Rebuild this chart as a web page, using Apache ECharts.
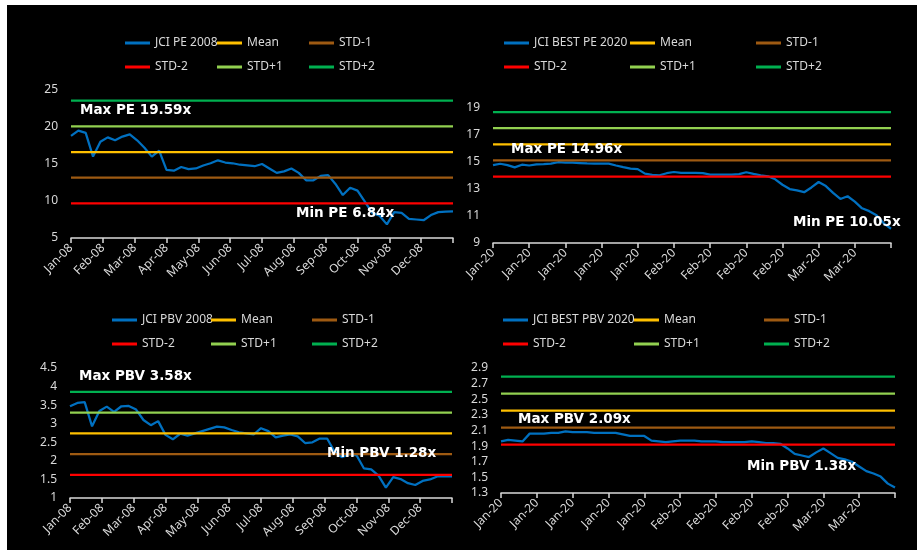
<!DOCTYPE html>
<html>
<head>
<meta charset="utf-8">
<script src="https://cdn.jsdelivr.net/npm/echarts@6/dist/echarts.min.js"></script>
<style>
  body { margin: 0; background: #fff; }
  #bg { position: absolute; left: 7px; top: 5px; width: 910px; height: 545px; background: #000; }
  #main { position: absolute; left: 0; top: 0; width: 917px; height: 550px; }
</style>
</head>
<body>
<div id="bg"></div>
<div id="main"></div>
<script>
// tick labels
var months08 = ['Jan-08', 'Feb-08', 'Mar-08', 'Apr-08', 'May-08', 'Jun-08', 'Jul-08', 'Aug-08', 'Sep-08', 'Oct-08', 'Nov-08', 'Dec-08'];
var days20 = ['Jan-20', 'Jan-20', 'Jan-20', 'Jan-20', 'Jan-20', 'Feb-20', 'Feb-20', 'Feb-20', 'Feb-20', 'Mar-20', 'Mar-20'];

// weekly values, 2008
var pe2008 = [18.8, 19.5, 19.2, 16.0, 18.0, 18.6, 18.2, 18.7, 19.0, 18.2, 17.2, 16.0, 16.8,
  14.2, 14.1, 14.6, 14.3, 14.4, 14.8, 15.1, 15.5, 15.2, 15.1, 14.9, 14.8, 14.7,
  15.0, 14.4, 13.8, 14.0, 14.4, 13.8, 12.8, 12.8, 13.4, 13.5, 12.3, 10.8, 11.8,
  11.4, 9.9, 8.4, 8.0, 6.84, 8.5, 8.4, 7.6, 7.5, 7.4, 8.1, 8.5, 8.55, 8.6];
var pbv2008 = [3.47, 3.56, 3.58, 2.93, 3.34, 3.46, 3.32, 3.47, 3.48, 3.38, 3.1, 2.96, 3.07,
  2.7, 2.58, 2.73, 2.68, 2.74, 2.8, 2.86, 2.92, 2.9, 2.83, 2.77, 2.74, 2.71,
  2.88, 2.8, 2.63, 2.68, 2.71, 2.66, 2.48, 2.5, 2.6, 2.6, 2.25, 2.1, 2.18,
  2.15, 1.8, 1.77, 1.6, 1.28, 1.56, 1.51, 1.4, 1.35, 1.46, 1.5, 1.58, 1.58, 1.58];

// daily values, 2020
var pe2020 = [14.74, 14.85, 14.75, 14.58, 14.78, 14.72, 14.8, 14.82, 14.86, 14.96, 14.94,
  14.93, 14.9, 14.87, 14.86, 14.86, 14.86, 14.72, 14.6, 14.49, 14.45, 14.12,
  14.03, 14.0, 14.15, 14.24, 14.17, 14.17, 14.17, 14.15, 14.05, 14.05, 14.05,
  14.05, 14.08, 14.22, 14.1, 14.0, 13.92, 13.7, 13.3, 12.98, 12.88, 12.75,
  13.1, 13.5, 13.2, 12.7, 12.25, 12.45, 12.05, 11.56, 11.35, 11.05, 10.45, 10.05];
var pbv2020 = [1.96, 1.98, 1.97, 1.96, 2.06, 2.06, 2.06, 2.07, 2.07, 2.09, 2.08,
  2.08, 2.08, 2.07, 2.07, 2.07, 2.07, 2.05, 2.03, 2.03, 2.03, 1.97,
  1.96, 1.95, 1.96, 1.97, 1.97, 1.97, 1.96, 1.96, 1.96, 1.95, 1.95,
  1.95, 1.95, 1.96, 1.95, 1.94, 1.94, 1.93, 1.87, 1.8, 1.78, 1.76,
  1.82, 1.87, 1.81, 1.75, 1.73, 1.7, 1.64, 1.58, 1.55, 1.51, 1.42, 1.37];

// bands: Mean, STD-1, STD-2, STD+1, STD+2
var bandNames = ['Mean', 'STD-1', 'STD-2', 'STD+1', 'STD+2'];
var pe2008Bands = [16.62, 13.15, 9.68, 20.09, 23.58];
var pe2020Bands = [16.28, 15.09, 13.9, 17.47, 18.66];
var pbv2008Bands = [2.74, 2.18, 1.62, 3.3, 3.86];
var pbv2020Bands = [2.355, 2.137, 1.92, 2.573, 2.79];

var bandColors = ['#ffc000', '#9e5a12', '#ff0000', '#92d050', '#00b050'];
var lineBlue = '#0070c0';
var txt = '#d9d9d9';
var font = 'Noto Sans';

var chart = echarts.init(document.getElementById('main'));

var grids = [], xAxes = [], yAxes = [], series = [], legends = [];

function panel(name, values, bands, ticks, yMin, yMax, yInt, box, cols, legTop) {
  var k = grids.length;
  var xMax = ticks.length;
  grids.push({ left: box[0], top: box[1], width: box[2], height: box[3] });
  xAxes.push({
    type: 'value', gridIndex: k, min: 0, max: xMax, interval: 1,
    splitLine: { show: false },
    axisLine: { show: true, lineStyle: { color: txt, width: 1.5 } },
    axisTick: { show: true, length: 5, lineStyle: { color: txt, width: 1.5 } },
    axisLabel: {
      rotate: 45, color: txt, fontFamily: font, fontSize: 12, margin: 8,
      formatter: function (v) { return ticks[v] || ''; }
    }
  });
  yAxes.push({
    type: 'value', gridIndex: k, min: yMin, max: yMax, interval: yInt,
    splitLine: { show: false }, axisLine: { show: false }, axisTick: { show: false },
    axisLabel: { color: txt, fontFamily: font, fontSize: 12, margin: 13 }
  });
  var step = xMax / (values.length - 1);
  series.push({
    name: name, type: 'line', xAxisIndex: k, yAxisIndex: k,
    data: values.map(function (v, i) { return [i * step, v]; }),
    showSymbol: false, color: lineBlue, lineStyle: { width: 2.25, color: lineBlue }
  });
  bands.forEach(function (b, j) {
    series.push({
      name: bandNames[j], type: 'line', xAxisIndex: k, yAxisIndex: k,
      data: [[0, b], [xMax, b]], showSymbol: false, color: bandColors[j],
      lineStyle: { width: 2.25, color: bandColors[j] }
    });
  });
  var items = [name, 'Mean', 'STD-1', 'STD-2', 'STD+1', 'STD+2'];
  items.forEach(function (it, i) {
    legends.push({
      data: [it], left: cols[i % 3], top: legTop + Math.floor(i / 3) * 24,
      itemWidth: 25, itemHeight: 3, icon: 'rect', selectedMode: false,
      textStyle: { color: txt, fontFamily: font, fontSize: 12 }
    });
  });
}

panel('JCI PE 2008', pe2008, pe2008Bands, months08, 5, 25, 5, [71, 90, 382, 148], [120, 212, 304], 32);
panel('JCI BEST PE 2020', pe2020, pe2020Bands, days20, 9, 19, 2, [493, 107.5, 398, 135.5], [499, 625, 751], 32);
panel('JCI PBV 2008', pbv2008, pbv2008Bands, months08, 1, 4.5, 0.5, [70, 368, 382, 130], [107, 206, 307], 309);
panel('JCI BEST PBV 2020', pbv2020, pbv2020Bands, days20, 1.3, 2.9, 0.2, [501, 368, 394, 125], [498, 629, 759], 309);

function note(text, x, y) {
  return {
    type: 'text', x: x, y: y, z: 100,
    style: {
      text: text, fill: '#fff', font: 'bold 13.5px "DejaVu Sans"', verticalAlign: 'middle',
      shadowColor: 'rgba(0,0,0,0.9)', shadowBlur: 2
    }
  };
}

chart.setOption({
  animation: false,
  grid: grids,
  xAxis: xAxes,
  yAxis: yAxes,
  legend: legends,
  series: series,
  graphic: [
    note('Max PE 19.59x', 80, 110),
    note('Min PE 6.84x', 296, 213),
    note('Max PE 14.96x', 511, 149),
    note('Min PE 10.05x', 793, 222),
    note('Max PBV 3.58x', 79, 376),
    note('Min PBV 1.28x', 327, 453),
    note('Max PBV 2.09x', 518, 419),
    note('Min PBV 1.38x', 747, 466)
  ]
});
</script>
</body>
</html>
